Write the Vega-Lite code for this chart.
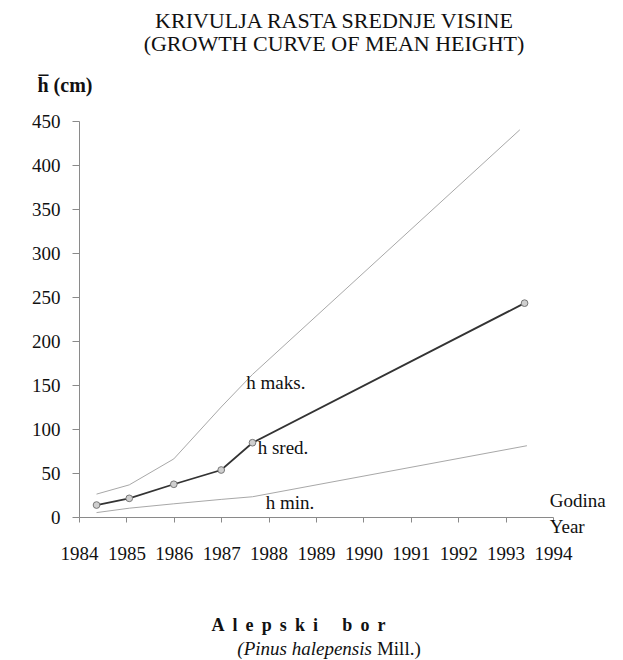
{
  "$schema": "https://vega.github.io/schema/vega-lite/v6.json",
  "width": 474,
  "height": 396,
  "autosize": {"type": "none"},
  "padding": {"left": 79, "top": 121, "right": 70, "bottom": 143},
  "background": "white",
  "view": {"stroke": null},
  "title": {
    "text": ["KRIVULJA RASTA SREDNJE VISINE", "(GROWTH CURVE OF MEAN HEIGHT)"],
    "frame": "group",
    "anchor": "middle",
    "dx": 18,
    "offset": 19,
    "font": "Liberation Serif",
    "fontSize": 22,
    "fontWeight": "normal",
    "color": "#111",
    "lineHeight": 23
  },
  "config": {
    "font": "Liberation Serif",
    "axis": {"grid": false, "domainColor": "#8a8a8a", "tickColor": "#8a8a8a", "labelFont": "Liberation Serif", "labelFontSize": 19, "labelColor": "#111", "labelOverlap": false, "labelBound": false, "labelFlush": false}
  },
  "datasets": {
    "curves": [
      {"series": "maks", "year": 1984.37, "h": 26},
      {"series": "maks", "year": 1985.06, "h": 36.5},
      {"series": "maks", "year": 1986.0, "h": 66},
      {"series": "maks", "year": 1987.0, "h": 125},
      {"series": "maks", "year": 1987.66, "h": 162},
      {"series": "maks", "year": 1993.3, "h": 440},
      {"series": "min", "year": 1984.37, "h": 5},
      {"series": "min", "year": 1985.06, "h": 10},
      {"series": "min", "year": 1986.0, "h": 15},
      {"series": "min", "year": 1987.0, "h": 20},
      {"series": "min", "year": 1987.66, "h": 23},
      {"series": "min", "year": 1993.45, "h": 81},
      {"series": "sred", "year": 1984.37, "h": 13.6},
      {"series": "sred", "year": 1985.06, "h": 21.2},
      {"series": "sred", "year": 1986.0, "h": 37.2},
      {"series": "sred", "year": 1987.0, "h": 53.4},
      {"series": "sred", "year": 1987.66, "h": 84.4},
      {"series": "sred", "year": 1993.4, "h": 243}
    ],
    "notes": [
      {"year": 1987.53, "h": 152, "label": "h maks."},
      {"year": 1987.77, "h": 78, "label": "h sred."},
      {"year": 1987.94, "h": 16, "label": "h min."},
      {"year": 1993.93, "h": 18, "label": "Godina"},
      {"year": 1993.93, "h": -11, "label": "Year"}
    ],
    "species": [
      {"year": 1988.63, "h": -124, "label": "A\u00a0\u2009l\u00a0\u2009e\u00a0\u2009p\u00a0\u2009s\u00a0\u2009k\u00a0\u2009i\u00a0\u2009\u00a0\u2009\u00a0\u2009b\u00a0\u2009o\u00a0\u2009r"}
    ],
    "latin": [
      {"year": 1990.18, "h": -150, "label": "(Pinus halepensis"}
    ],
    "author": [
      {"year": 1990.18, "h": -150, "label": "Mill.)"}
    ]
  },
  "layer": [
    {
      "data": {"name": "curves"},
      "transform": [{"filter": "datum.series != 'sred'"}],
      "mark": {"type": "line", "color": "#a8a8a8", "strokeWidth": 1},
      "encoding": {
        "x": {"field": "year", "type": "quantitative", "scale": {"domain": [1984, 1994], "nice": false, "zero": false},
          "axis": {"title": null, "values": [1984,1985,1986,1987,1988,1989,1990,1991,1992,1993,1994], "format": "d", "tickSize": 5, "labelPadding": 22}},
        "y": {"field": "h", "type": "quantitative", "scale": {"domain": [0, 450], "nice": false},
          "axis": {"title": "h\u0305 (cm)", "titleAngle": 0, "titleX": -42, "titleY": -36, "titleAlign": "left", "titleBaseline": "middle", "titleFont": "Liberation Serif", "titleFontSize": 20, "titleFontWeight": "bold", "titleColor": "#111",
            "values": [0,50,100,150,200,250,300,350,400,450], "tickSize": 7, "labelPadding": 12}},
        "detail": {"field": "series"}
      }
    },
    {
      "data": {"name": "curves"},
      "transform": [{"filter": "datum.series == 'sred'"}],
      "mark": {"type": "line", "color": "#333", "strokeWidth": 1.8},
      "encoding": {
        "x": {"field": "year", "type": "quantitative"},
        "y": {"field": "h", "type": "quantitative"}
      }
    },
    {
      "data": {"name": "curves"},
      "transform": [{"filter": "datum.series == 'sred'"}],
      "mark": {"type": "point", "filled": true, "fill": "#cfcfcf", "stroke": "#777", "strokeWidth": 1, "size": 45, "opacity": 1},
      "encoding": {
        "x": {"field": "year", "type": "quantitative"},
        "y": {"field": "h", "type": "quantitative"}
      }
    },
    {
      "data": {"name": "notes"},
      "mark": {"type": "text", "align": "left", "baseline": "middle", "font": "Liberation Serif", "fontSize": 19, "color": "#111"},
      "encoding": {
        "x": {"field": "year", "type": "quantitative"},
        "y": {"field": "h", "type": "quantitative"},
        "text": {"field": "label"}
      }
    },
    {
      "data": {"name": "species"},
      "mark": {"type": "text", "align": "center", "baseline": "middle", "font": "Liberation Serif", "fontSize": 18, "fontWeight": "bold", "color": "#111"},
      "encoding": {
        "x": {"field": "year", "type": "quantitative"},
        "y": {"field": "h", "type": "quantitative"},
        "text": {"field": "label"}
      }
    },
    {
      "data": {"name": "latin"},
      "mark": {"type": "text", "align": "right", "baseline": "middle", "font": "Liberation Serif", "fontSize": 19, "fontStyle": "italic", "color": "#111"},
      "encoding": {
        "x": {"field": "year", "type": "quantitative"},
        "y": {"field": "h", "type": "quantitative"},
        "text": {"field": "label"}
      }
    },
    {
      "data": {"name": "author"},
      "mark": {"type": "text", "align": "left", "baseline": "middle", "dx": 5, "font": "Liberation Serif", "fontSize": 19, "color": "#111"},
      "encoding": {
        "x": {"field": "year", "type": "quantitative"},
        "y": {"field": "h", "type": "quantitative"},
        "text": {"field": "label"}
      }
    }
  ]
}
